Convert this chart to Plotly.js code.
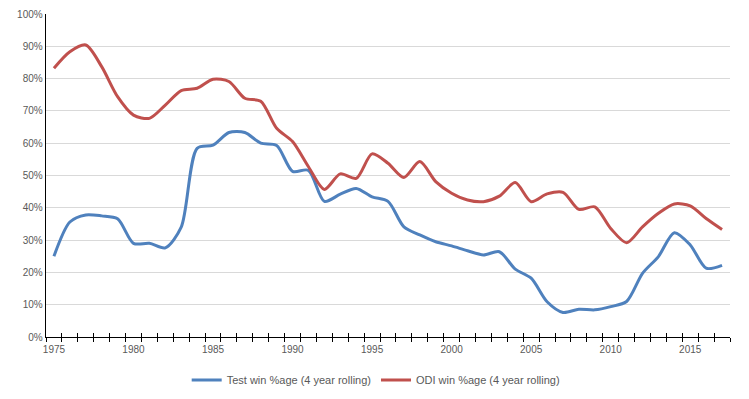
<!DOCTYPE html>
<html>
<head>
<meta charset="utf-8">
<script src="https://cdn.plot.ly/plotly-3.0.1.min.js"></script>
<style>html,body{margin:0;padding:0;background:#fff;}#chart{width:749px;height:399px;}</style>
</head>
<body>
<div id="chart"></div>
<script>
const years = [1975,1976,1977,1978,1979,1980,1981,1982,1983,1984,1985,1986,1987,1988,1989,1990,1991,1992,1993,1994,1995,1996,1997,1998,1999,2000,2001,2002,2003,2004,2005,2006,2007,2008,2009,2010,2011,2012,2013,2014,2015,2016,2017];
const testWin = [25,35.6,37.8,37.5,36.6,29,29,27.6,34,58.4,59.4,63.3,63.3,60,59.3,51.3,51.6,42,44.2,46,43.4,42,34.1,31.6,29.5,28.2,26.7,25.4,26.4,21,18.2,10.9,7.6,8.6,8.4,9.4,11,19.7,24.9,32.3,28.5,21.3,22.2];
const odiWin = [83.2,88.3,90.4,83.7,74.4,68.7,67.7,71.8,76.3,77,79.8,79.1,73.9,73,64.6,60.5,52.7,45.7,50.5,49.1,56.7,53.8,49.4,54.3,48.1,44.5,42.4,41.9,43.6,47.8,41.9,44.3,44.8,39.5,40.3,33.6,29.2,34.1,38.3,41.2,40.6,36.7,33.3];
const seriesNames = ["Test win %age (4 year rolling)", "ODI win %age (4 year rolling)"];
const labelYears = [1975,1980,1985,1990,1995,2000,2005,2010,2015];
const yTicks = [0,10,20,30,40,50,60,70,80,90,100];

const font = {family: "Liberation Sans, Arial, sans-serif", size: 10, color: "#595959"};
const legendFont = {family: "Liberation Sans, Arial, sans-serif", size: 11, color: "#595959"};
const traces = [
  {x: years, y: testWin, name: seriesNames[0], type: "scatter", mode: "lines",
   line: {color: "#4F81BD", width: 3, shape: "spline", smoothing: 0.8}, hoverinfo: "skip"},
  {x: years, y: odiWin, name: seriesNames[1], type: "scatter", mode: "lines",
   line: {color: "#C0504D", width: 3, shape: "spline", smoothing: 0.8}, hoverinfo: "skip"}
];
const xr = [years[0]-0.5, years[years.length-1]+0.5];
const layout = {
  width: 749, height: 399,
  margin: {l: 46, r: 19, t: 14, b: 62, autoexpand: false},
  paper_bgcolor: "#fff", plot_bgcolor: "#fff",
  font: font,
  showlegend: true,
  legend: {orientation: "h", x: 0.482, xanchor: "center", y: -0.133, yanchor: "middle", font: legendFont, itemwidth: 30},
  xaxis: {
    range: xr, tickmode: "array", tickvals: labelYears, ticktext: labelYears.map(String),
    ticks: "", showgrid: false, zeroline: false, showline: true, linecolor: "#000", linewidth: 1.3,
    tickfont: font, ticklabelstandoff: 3,
    minor: {tick0: 1974.5, dtick: 1, ticks: "outside", ticklen: 4, tickcolor: "#000", tickwidth: 1, showgrid: false}
  },
  xaxis2: {
    range: xr, overlaying: "x", anchor: "y", side: "bottom", tick0: 1974.5, dtick: 1,
    ticks: "inside", ticklen: 4, tickcolor: "#000", tickwidth: 1, showticklabels: false,
    showgrid: false, zeroline: false, showline: false
  },
  yaxis: {
    range: [0, 100], tickmode: "array", tickvals: yTicks, ticktext: yTicks.map(v => v + "%"),
    showgrid: true, gridcolor: "#d9d9d9", gridwidth: 1, zeroline: false,
    showline: true, linecolor: "#000", linewidth: 1.3, ticks: "", tickfont: font
  }
};
traces.push({x: [xr[0]], y: [0], xaxis: "x2", yaxis: "y", mode: "markers", marker: {opacity: 0}, showlegend: false, hoverinfo: "skip"});
Plotly.newPlot("chart", traces, layout, {staticPlot: true, displayModeBar: false});
</script>
</body>
</html>
